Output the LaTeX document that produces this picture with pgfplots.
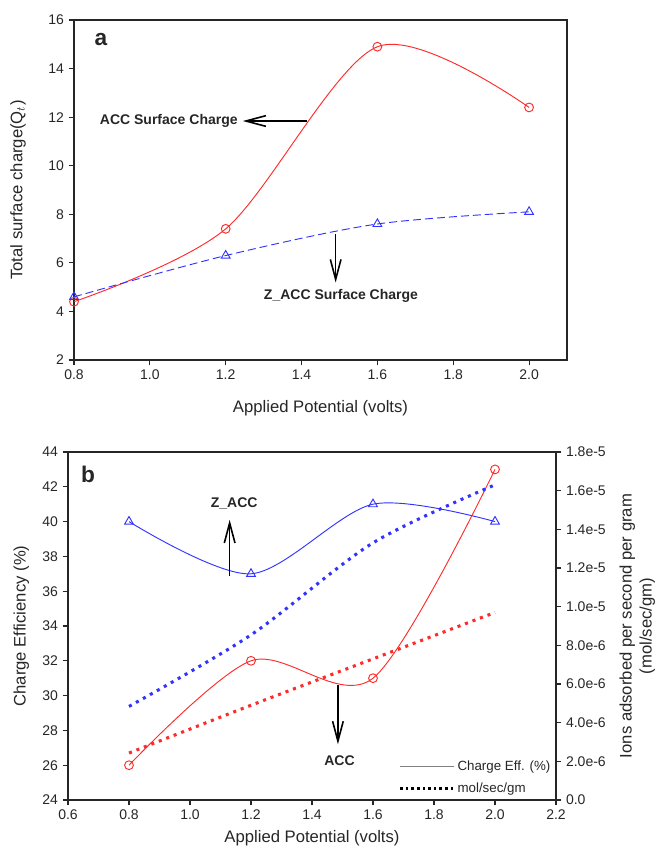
\documentclass[border=0pt]{standalone}
\usepackage{fontspec}
\setmainfont{Liberation Sans}
\usepackage{pgfplots}
\pgfplotsset{compat=1.18}
\usetikzlibrary{arrows.meta}

\definecolor{ink}{HTML}{262626}
\definecolor{accred}{HTML}{FF2A2A}
\definecolor{zblue}{HTML}{3333FF}

\pgfplotsset{
  panel/.style={scale only axis,
    axis line style={ink,line width=0.8pt},
    tick align=outside,major tick length=4pt,
    tick style={ink,line width=0.8pt},
    tick label style={font=\fontsize{10.5}{12}\selectfont,text=ink},
    label style={font=\fontsize{12.5}{15}\selectfont,text=ink},
    /pgf/number format/assume math mode=true,
    x tick label style={/pgf/number format/.cd,fixed,fixed zerofill,precision=1,/tikz/.cd}},
}
\tikzset{
  dotser/.style={line width=2.3pt,dash pattern=on 2.3pt off 3.7pt},
  note/.style={font=\bfseries\fontsize{10.5}{12}\selectfont,text=ink},
  arr/.style={-{Straight Barb[length=15pt,width=8pt]},line width=1.2pt,black},
}

\begin{document}
\begin{tikzpicture}
\useasboundingbox (0,0) rectangle (492pt,636pt);

% panel a
\begin{axis}[panel,at={(55.5pt,366pt)},anchor=south west,
  width=369.75pt,height=255pt,
  xmin=0.8,xmax=2.1,ymin=2,ymax=16,
  xtick={0.8,1.0,1.2,1.4,1.6,1.8,2.0},ytick={2,4,...,16},
  xtick pos=bottom,ytick pos=left,
  xlabel={Applied Potential (volts)},
  ylabel={Total surface charge(Q$_t$)},
  xlabel style={at={(axis description cs:0.5,0)},anchor=center,yshift=-36pt},
  ylabel style={at={(axis description cs:0,0.5)},anchor=center,yshift=42pt}]
\addplot[accred,line width=0.7pt,smooth,mark=o,mark size=3.3pt]
  coordinates {(0.8,4.4)(1.2,7.4)(1.6,14.9)(2.0,12.4)};
\addplot[zblue,line width=0.7pt,smooth,dash pattern=on 6pt off 3pt,
  mark=triangle,mark size=3.8pt,mark options={solid}]
  coordinates {(0.8,4.6)(1.2,6.3)(1.6,7.6)(2.0,8.1)};
\node[font=\bfseries\fontsize{17}{20}\selectfont,text=ink] at (axis cs:0.871,15.2) {a};
\node[note] at (axis cs:1.05,11.84) {ACC Surface Charge};
\draw[arr] (axis cs:1.415,11.84) -- (axis cs:1.245,11.84);
\draw[arr] (axis cs:1.49,7.18) -- (axis cs:1.49,5.19);
\node[note] at (axis cs:1.504,4.62) {Z\_ACC Surface Charge};
\end{axis}

% panel b, left axis
\begin{axis}[panel,at={(51pt,36pt)},anchor=south west,
  width=366pt,height=261pt,
  xmin=0.6,xmax=2.2,ymin=24,ymax=44,
  xtick={0.6,0.8,1.0,1.2,1.4,1.6,1.8,2.0,2.2},ytick={24,26,...,44},
  xtick pos=bottom,ytick pos=left,
  xlabel={Applied Potential (volts)},
  ylabel={Charge Efficiency (\%)},
  xlabel style={at={(axis description cs:0.5,0)},anchor=center,yshift=-29pt},
  ylabel style={at={(axis description cs:0,0.5)},anchor=center,yshift=35pt}]
\addplot[zblue,line width=0.7pt,smooth,mark=triangle,mark size=3.8pt]
  coordinates {(0.8,40)(1.2,37)(1.6,41)(2.0,40)};
\addplot[accred,line width=0.7pt,smooth,mark=o,mark size=3.3pt]
  coordinates {(0.8,26)(1.2,32)(1.6,31)(2.0,43)};
\node[font=\bfseries\fontsize{17}{20}\selectfont,text=ink] at (axis cs:0.666,42.7) {b};
\node[note] at (axis cs:1.145,41.06) {Z\_ACC};
\draw[arr] (axis cs:1.13,36.9) -- (axis cs:1.13,40.1);
\node[note] at (axis cs:1.49,26.25) {ACC};
\draw[arr] (axis cs:1.485,30.6) -- (axis cs:1.485,27.2);
\end{axis}

% panel b, right axis
\begin{axis}[panel,at={(51pt,36pt)},anchor=south west,
  width=366pt,height=261pt,
  xmin=0.6,xmax=2.2,ymin=0,ymax=1.8e-5,
  axis x line=none,axis y line*=right,ytick pos=right,
  scaled y ticks=false,
  ytick={0,2e-6,4e-6,6e-6,8e-6,1e-5,1.2e-5,1.4e-5,1.6e-5,1.8e-5},
  yticklabels={0.0,2.0e-6,4.0e-6,6.0e-6,8.0e-6,1.0e-5,1.2e-5,1.4e-5,1.6e-5,1.8e-5},
  ylabel={Ions adsorbed per second per gram\\(mol/sec/gm)},
  ylabel style={at={(axis description cs:1,0.5)},anchor=center,yshift=-61pt,
    align=center},
  legend style={at={(rel axis cs:1,0)},anchor=south east,draw=none,fill=none,
    font=\fontsize{10}{12}\selectfont,text=ink,row sep=4pt,inner sep=2pt},
  legend cell align=left,
  legend image code/.code={\draw[#1] (0pt,0pt) -- (40pt,0pt);}]
\addplot[zblue,dotser,smooth,forget plot]
  coordinates {(0.8,4.84e-6)(1.2,8.54e-6)(1.6,1.33e-5)(2.0,1.63e-5)};
\addplot[accred,dotser,smooth,forget plot]
  coordinates {(0.8,2.43e-6)(1.2,4.9e-6)(1.6,7.3e-6)(2.0,9.7e-6)};
\addlegendimage{gray,line width=0.6pt}
\addlegendentry{Charge Eff. (\%)}
\addlegendimage{black,line width=2pt,dash pattern=on 2pt off 2.2pt}
\addlegendentry{mol/sec/gm}
\end{axis}
\end{tikzpicture}
\end{document}
